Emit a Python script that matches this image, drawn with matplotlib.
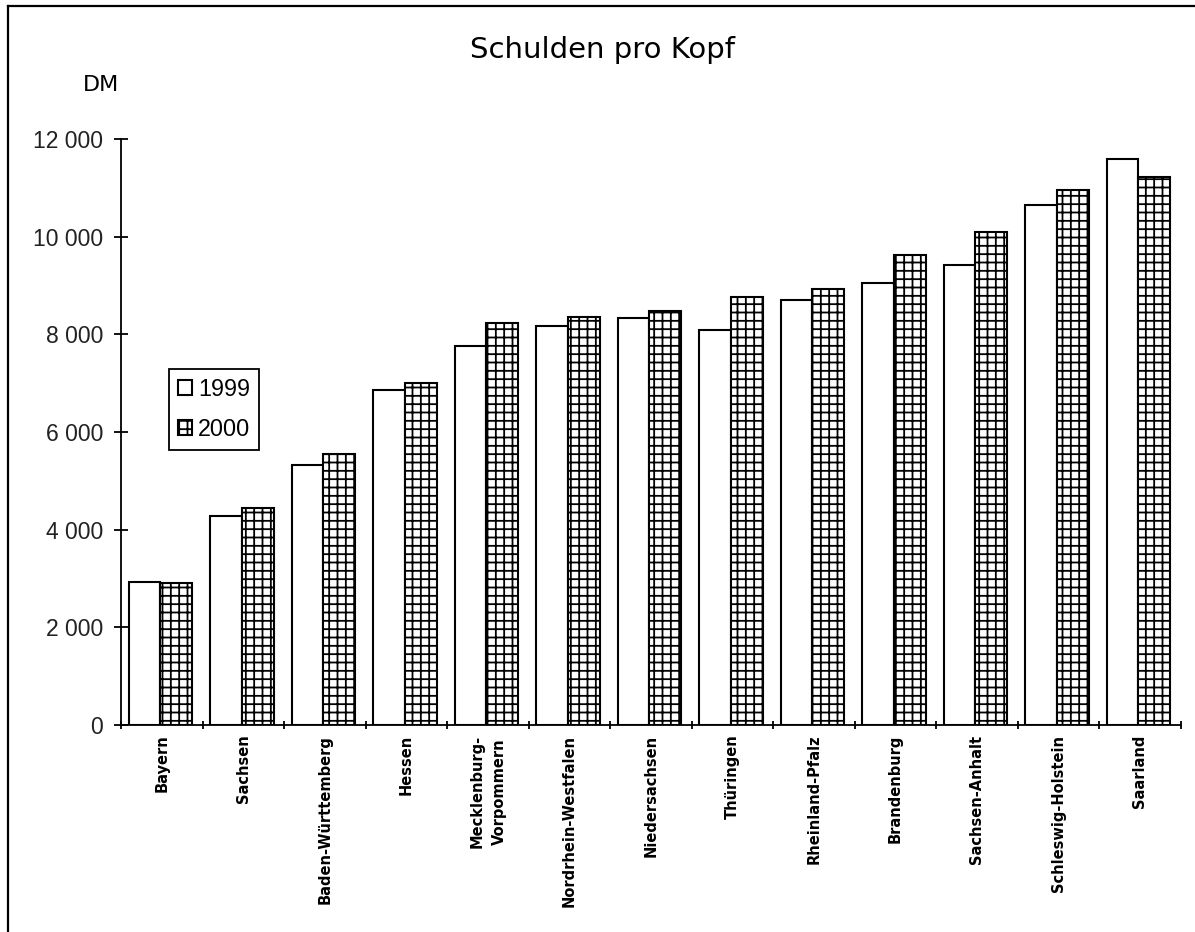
import matplotlib
matplotlib.use("Agg")
import matplotlib.pyplot as plt
from matplotlib.lines import Line2D
import numpy as np

categories = ["Bayern", "Sachsen", "Baden-Württemberg", "Hessen",
              "Mecklenburg-\nVorpommern", "Nordrhein-Westfalen", "Niedersachsen",
              "Thüringen", "Rheinland-Pfalz", "Brandenburg", "Sachsen-Anhalt",
              "Schleswig-Holstein", "Saarland"]
values_1999 = [2930, 4280, 5330, 6860, 7760, 8170, 8330, 8090, 8700, 9050, 9420, 10650, 11590]
values_2000 = [2900, 4440, 5550, 7000, 8230, 8360, 8480, 8760, 8930, 9630, 10100, 10960, 11220]
series_labels = ["1999", "2000"]
yticks = [0, 2000, 4000, 6000, 8000, 10000, 12000]
ytick_labels = ["0", "2 000", "4 000", "6 000", "8 000", "10 000", "12 000"]

plt.rcParams['hatch.linewidth'] = 1.3
W, H = 1195, 932
fig = plt.figure(figsize=(W / 100, H / 100), dpi=100)
ax = fig.add_axes([121.2 / W, 1 - 725 / H, (1180.7 - 121.2) / W, (725 - 139) / H])

x = np.arange(len(categories))
bw = 0.39
b1 = ax.bar(x - 0.215, values_1999, width=bw, color="white", edgecolor="black",
            linewidth=1.5, label=series_labels[0])
b2 = ax.bar(x + 0.175, values_2000, width=bw, color="white", edgecolor="black",
            linewidth=1.5, hatch="++", label=series_labels[1])

ax.set_xlim(-0.5, len(categories) - 0.5)
ax.set_ylim(0, 12000)
for s in ["top", "right"]:
    ax.spines[s].set_visible(False)
for s in ["left", "bottom"]:
    ax.spines[s].set_linewidth(1.3)

ax.set_yticks(yticks)
ax.set_yticklabels(ytick_labels, fontfamily="Liberation Sans", fontsize=16.5, color="#222222")
ax.tick_params(axis="y", direction="inout", length=10, width=1.3, pad=8)

ax.set_xticks(x)
ax.set_xticklabels(categories, rotation=90, fontfamily="DejaVu Sans", fontweight="bold",
                   fontsize=10.5, va="top", ha="center", linespacing=1.6)
ax.tick_params(axis="x", which="major", length=0, pad=7)
ax.set_xticks(np.arange(-0.5, len(categories)), minor=True)
ax.tick_params(axis="x", which="minor", direction="inout", length=6, width=1.3)

leg = ax.legend(loc="upper left", bbox_to_anchor=(0.0454, 0.6075), borderaxespad=0,
                prop={"family": "Liberation Sans", "size": 16.8}, fancybox=False,
                edgecolor="black", framealpha=1, handlelength=0.6, handleheight=0.6,
                handletextpad=0.25, labelspacing=0.72, borderpad=0.38)
leg.get_frame().set_linewidth(1.3)

fig.text(603 / W, 1 - 50 / H, "Schulden pro Kopf", ha="center", va="center",
         fontfamily="DejaVu Sans", fontsize=21)
fig.text(101 / W, 1 - 85 / H, "DM", ha="center", va="center",
         fontfamily="DejaVu Sans", fontsize=16)

fig.add_artist(Line2D([8 / W, 1.0], [1 - 6 / H, 1 - 6 / H], transform=fig.transFigure,
                      color="black", linewidth=1.6))
fig.add_artist(Line2D([8 / W, 8 / W], [1 - 6 / H, 0.0], transform=fig.transFigure,
                      color="black", linewidth=1.6))

fig.savefig("out.png", dpi=100)
